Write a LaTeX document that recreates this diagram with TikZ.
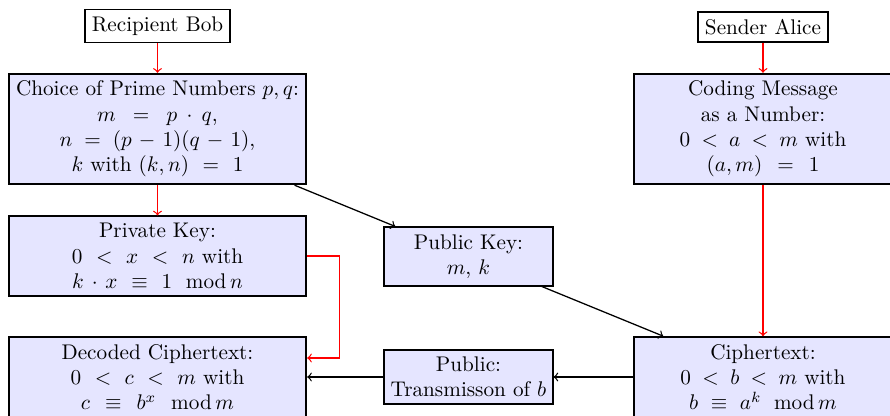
\documentclass[tikz,border=0pt]{standalone}
\usetikzlibrary{calc}
\newcommand{\mymod}{\;\mathrm{mod}\,}
\begin{document}
\begin{tikzpicture}[x=0.4717pt,y=-0.4717pt,
  box/.style={draw,thick,fill=blue!10,align=center,inner sep=3.33pt},
  tag/.style={draw,thick,fill=white,inner sep=3.33pt},
  redarrow/.style={->,red,semithick},
  blackarrow/.style={->,black,semithick}]
\useasboundingbox (0,0) rectangle (890,416);
\node[tag] (bob) at (157.5,26) {Recipient Bob};
\node[tag] (alice) at (763,27) {Sender Alice};
\node[box,text width=4.7cm] (choice) at (157.5,129)
  {Choice of Prime Numbers $p,q$:\\ $m = p \cdot q$,\\ $n = (p-1)(q-1)$,\\ $k$ with $(k,n) = 1$};
\node[box,text width=4.7cm] (priv) at (157.5,256)
  {Private Key:\\ $0 < x < n$ with\\ $k \cdot x \equiv 1 \mymod n$};
\node[box,text width=4.7cm] (dec) at (157.5,377)
  {Decoded Ciphertext:\\ $0 < c < m$ with\\ $c \equiv b^x \mymod m$};
\node[box,text width=75pt,inner xsep=2.2pt] (pub) at (468.5,256.5)
  {Public Key:\\ $m$, $k$};
\node[box,text width=75pt,inner xsep=2.2pt] (trans) at (468.5,377)
  {Public:\\ Transmisson of $b$};
\node[box,text width=115pt] (coding) at (763,129)
  {Coding Message\\ as a Number:\\ $0 < a < m$ with\\ $(a,m) = 1$};
\node[box,text width=115pt] (cipher) at (763,377)
  {Ciphertext:\\ $0 < b < m$ with\\ $b \equiv a^k \mymod m$};
\draw[redarrow] (bob) -- (choice);
\draw[redarrow] (choice) -- (priv);
\draw[redarrow] (alice) -- (coding);
\draw[redarrow] (coding) -- (cipher);
\draw[redarrow] (priv.east) -- ++(32,0) |- ($(dec.east)+(0,-19)$);
\draw[blackarrow] (choice) -- (pub);
\draw[blackarrow] (pub) -- (cipher);
\draw[blackarrow] (cipher) -- (trans);
\draw[blackarrow] (trans) -- (dec);
\end{tikzpicture}
\end{document}
